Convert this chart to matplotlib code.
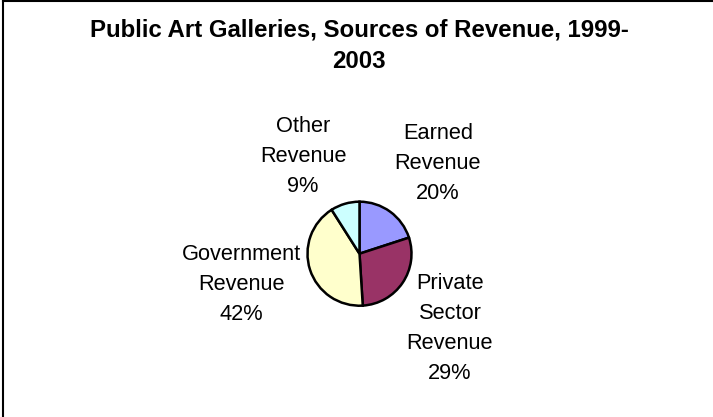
import textwrap
import matplotlib
matplotlib.use("Agg")
import matplotlib.pyplot as plt
from matplotlib.lines import Line2D

plt.rcParams["font.family"] = ["Liberation Sans", "DejaVu Sans"]

# Revenue shares (%) for public art galleries, 1999-2003
categories = ["Earned Revenue", "Private Sector Revenue", "Government Revenue", "Other Revenue"]
shares = [20, 29, 42, 9]
colors = ["#9999FF", "#993366", "#FFFFCC", "#CCFFFF"]
title = "Public Art Galleries, Sources of Revenue, 1999-\n2003"

W, H = 713, 417
fig = plt.figure(figsize=(W / 100, H / 100), dpi=100)
fig.patch.set_facecolor("white")

# axes spanning the whole figure, one data unit per pixel
ax = fig.add_axes([0, 0, 1, 1])
ax.pie(shares, colors=colors, startangle=90, counterclock=False,
       center=(359.5, H - 253.7), radius=52,
       wedgeprops=dict(edgecolor="black", linewidth=1.8))
ax.set_xlim(0, W)
ax.set_ylim(0, H)
ax.set_aspect("equal")
ax.axis("off")

# label anchors (pixel positions, measured from top-left)
label_pos = [(438, 163.5), (450, 328.5), (241.5, 284.5), (303, 156.5)]
for cat, val, (px, py) in zip(categories, shares, label_pos):
    text = textwrap.fill(cat, width=10) + f"\n{val}%"
    ax.text(px, H - py, text, ha="center", va="center",
            fontsize=15.7, linespacing=1.56, color="black")

fig.text(359 / W, 1 - 46 / H, title, ha="center", va="center",
         fontsize=17.3, fontweight="bold", linespacing=1.46)

# chart-area frame (left and top edges)
fig.add_artist(Line2D([3 / W, 3 / W], [0, 1 - 1 / H], transform=fig.transFigure,
                      color="black", linewidth=1.5))
fig.add_artist(Line2D([3 / W, 1], [1 - 1 / H, 1 - 1 / H], transform=fig.transFigure,
                      color="black", linewidth=1.5))

fig.savefig("out.png", dpi=100, facecolor="white")
